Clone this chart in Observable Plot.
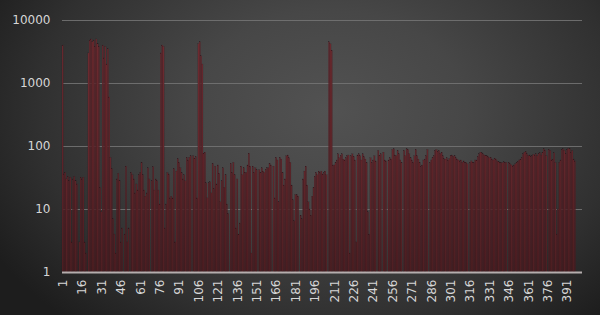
<!DOCTYPE html>
<html>
<head>
<meta charset="utf-8">
<script src="https://cdn.jsdelivr.net/npm/d3@7"></script>
<script src="https://cdn.jsdelivr.net/npm/@observablehq/plot@0.6"></script>
<style>
  html, body { margin: 0; padding: 0; background: #222; }
  #chart { width: 600px; height: 315px; }
</style>
</head>
<body>
<div id="chart"></div>
<script>
// Category labels (1 .. 402) and values
const categoryCount = 402;
const xTickLabels = [1, 16, 31, 46, 61, 76, 91, 106, 121, 136, 151, 166, 181, 196, 211, 226, 241, 256, 271, 286, 301, 316, 331, 346, 361, 376, 391];
const yTickLabels = [1, 10, 100, 1000, 10000];

const values1to100 = [
  4000,36,38,30,33,28,32,3,30,33,28,25,1,3,32,30,32,3,2,1,
  3000,4800,5000,4500,4800,3800,5000,4200,3800,22,9,4000,2500,3800,2000,3500,600,66,44,7,
  4,2,30,37,28,3,5,1,4,48,3,5,1,38,35,30,18,25,20,35,
  38,55,35,20,16,18,45,30,1,28,47,20,30,28,20,12,3000,4000,3800,5,
  12,38,36,15,16,15,44,3,40,63,55,45,38,30,35,28,66,60,66,70
];
const values101to200 = [
  1,70,63,68,15,4200,4500,2700,2000,77,80,26,15,26,27,18,53,21,48,25,
  50,37,13,28,45,22,35,12,8.5,1,53,38,55,35,5,30,4,6,48,35,
  45,38,38,50,77,48,2,48,38,45,42,1,42,38,45,40,38,42,45,45,
  53,50,1,48,15,66,60,13,66,62,38,24,30,70,72,65,55,24,14,6.5,
  17,17,16,1,8,7,30,40,48,24,13,10,8,16,22,33,38,35,40,38
];
const values201to300 = [
  40,36,38,40,35,1,4500,4200,3300,50,50,55,60,75,65,70,75,62,60,65,
  70,72,2,70,75,68,60,3,72,75,70,60,75,68,62,55,9,4,65,55,
  60,70,58,1,85,70,75,1,80,60,58,1,60,65,62,88,90,72,70,85,
  75,60,55,1,85,70,90,88,75,65,60,55,70,88,70,62,55,48,50,60,
  62,70,88,1,55,60,65,70,85,88,82,85,76,80,70,63,62,65,60,63
];
const values301to397 = [
  70,72,68,70,65,62,60,58,60,55,58,55,55,52,1,55,58,55,55,60,
  60,68,75,80,78,75,72,70,70,68,65,66,62,60,64,62,58,56,55,55,
  54,56,55,55,1,55,52,50,48,50,52,55,57,60,62,66,75,80,82,75,
  70,72,68,70,74,72,75,70,76,78,72,80,90,85,70,1,88,85,60,62,
  78,55,4,10,55,60,88,90,85,75,88,92,90,80,85,62,58
];

const values = [...values1to100, ...values101to200, ...values201to300, ...values301to397];
const categories = Array.from({length: categoryCount}, (_, i) => i + 1);
const data = values.map((v, i) => ({cat: categories[i], value: v}));

function defs() {
  const ns = "http://www.w3.org/2000/svg";
  const d = document.createElementNS(ns, "defs");
  const g = document.createElementNS(ns, "linearGradient");
  g.setAttribute("id", "barGrad");
  g.setAttribute("gradientUnits", "userSpaceOnUse");
  g.setAttribute("x1", "0"); g.setAttribute("x2", "0");
  g.setAttribute("y1", "20"); g.setAttribute("y2", "272");
  [["0%", "#6f2c31"], ["55%", "#62262b"], ["100%", "#4f1f23"]].forEach(([o, c]) => {
    const s = document.createElementNS(ns, "stop");
    s.setAttribute("offset", o); s.setAttribute("stop-color", c);
    g.appendChild(s);
  });
  d.appendChild(g);
  return d;
}

const chart = Plot.plot({
  width: 600,
  height: 315,
  marginLeft: 62,
  marginRight: 18,
  marginTop: 20,
  marginBottom: 43,
  style: {
    background: "radial-gradient(ellipse 65% 90% at 55% 35%, #525252 0%, #474747 35%, #303030 75%, #1d1d1d 100%)",
    color: "#d6d6d6",
    fontFamily: "DejaVu Sans, sans-serif",
    fontSize: "12px"
  },
  x: {type: "band", domain: categories, padding: 0},
  y: {type: "log", domain: [1, 10000]},
  marks: [
    defs,
    Plot.gridY([10, 100, 1000, 10000], {stroke: "#727272", strokeOpacity: 0.9, strokeWidth: 1}),
    Plot.barY(data, {x: "cat", y1: 1, y2: "value", fill: "url(#barGrad)", stroke: "#1a0c10", strokeWidth: 0.2, strokeOpacity: 0.6}),
    Plot.ruleY([1], {stroke: "#b5aeae", strokeWidth: 2}),
    Plot.axisY({ticks: yTickLabels, tickFormat: d => String(d), tickSize: 0, tickPadding: 12, label: null, fill: "#d6d6d6"}),
    Plot.axisX({ticks: xTickLabels, tickSize: 0, tickRotate: -90, tickPadding: 7, label: null, fill: "#d6d6d6"})
  ]
});
document.getElementById("chart").appendChild(chart);
</script>
</body>
</html>
